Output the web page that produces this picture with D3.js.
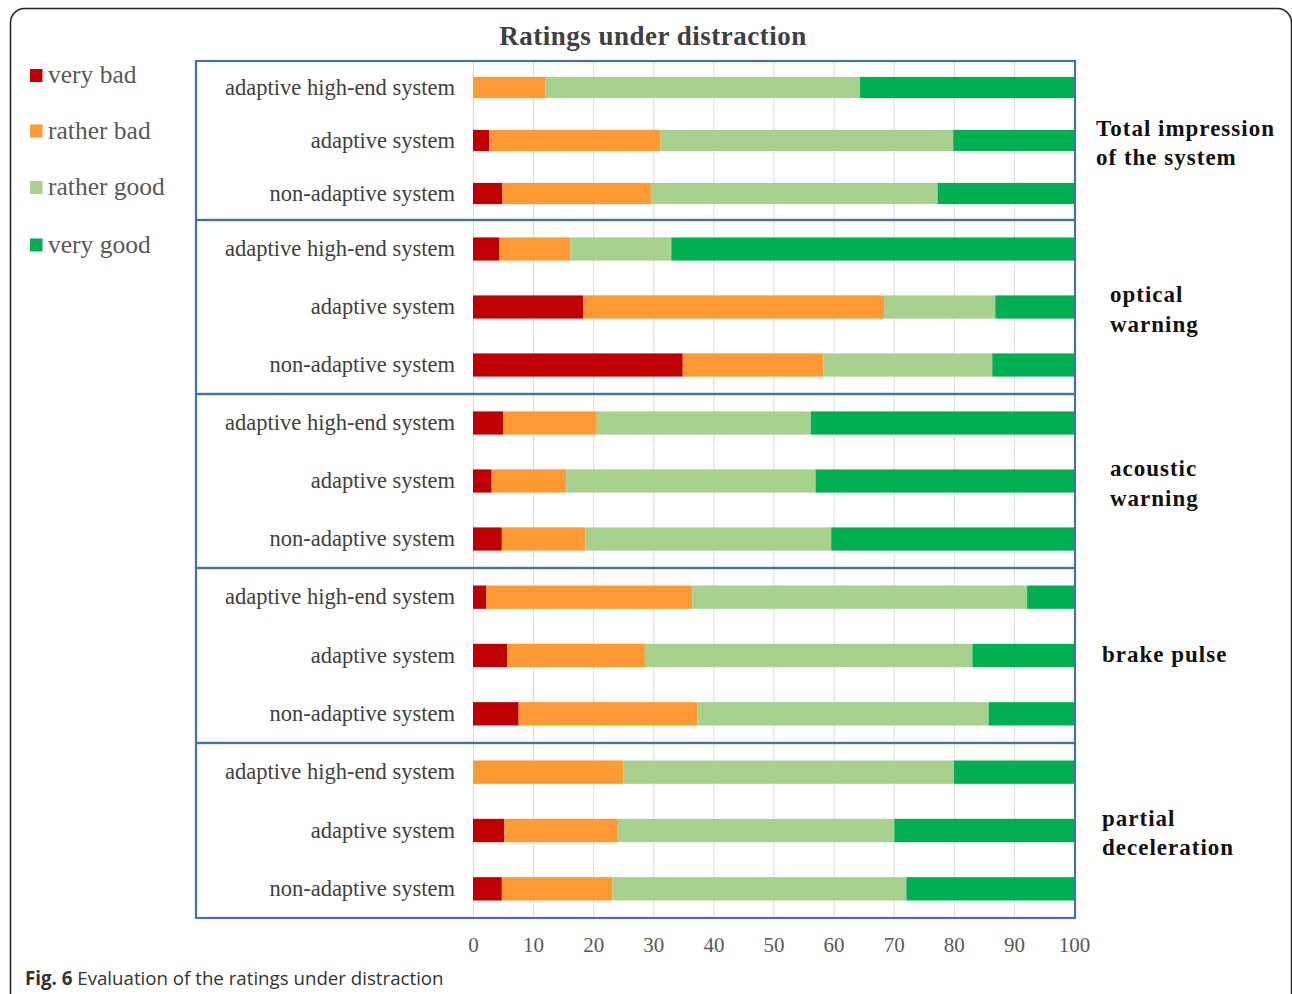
<!DOCTYPE html>
<html>
<head>
<meta charset="utf-8">
<script src="https://cdn.jsdelivr.net/npm/d3@7"></script>
<style>
  html, body { margin: 0; padding: 0; background: #fff; }
  svg { display: block; }
</style>
</head>
<body>
<svg id="chart" width="1292" height="994"></svg>
<script>
// Rated systems (rows inside every panel) and the rated functions (panels)
const categories = ["adaptive high-end system", "adaptive system", "non-adaptive system"];
const groups = [
  ["Total impression", "of the system"],
  ["optical", "warning"],
  ["acoustic", "warning"],
  ["brake pulse"],
  ["partial", "deceleration"]
];
const ratings = ["very bad", "rather bad", "rather good", "very good"];
const ratingColors = ["#c00000", "#ff9933", "#a9d18e", "#00b050"];

// Share of answers in percent, one entry per row, panel by panel
const veryBad    = [0.0, 2.7, 4.9,   4.4, 18.3, 34.9,   5.0, 3.1, 4.8,    2.2, 5.7, 7.6,    0.0, 5.2, 4.8];
const ratherBad  = [12.0, 28.5, 24.7, 11.8, 50.1, 23.4, 15.6, 12.4, 13.9, 34.3, 22.9, 29.7, 25.0, 18.9, 18.4];
const ratherGood = [52.4, 48.7, 47.7, 16.8, 18.5, 28.1, 35.6, 41.5, 40.9, 55.7, 54.5, 48.5, 55.0, 46.0, 48.9];
const veryGood   = [35.6, 20.1, 22.7, 67.0, 13.1, 13.6, 43.8, 43.0, 40.4, 7.8, 16.9, 14.2, 20.0, 29.9, 27.9];
const xTicks = [0, 10, 20, 30, 40, 50, 60, 70, 80, 90, 100];

// Layout
const frame = { left: 196, right: 1075 };
const panelEdges = [61, 220, 394, 568, 743, 918];
const groupLabelX = [1096, 1110, 1110, 1102, 1102];
const plotLeft = 473, plotRight = 1074;

const svg = d3.select("#chart");

// Outer figure frame
svg.append("rect")
  .attr("x", 10.5).attr("y", 8.5)
  .attr("width", 1281).attr("height", 1100)
  .attr("rx", 14)
  .attr("fill", "none").attr("stroke", "#222").attr("stroke-width", 1.5);

const x = d3.scaleLinear().domain([0, 100]).range([plotLeft, plotRight]);

// Build a row table from the series arrays
const rows = d3.range(veryBad.length).map(i => ({
  group: Math.floor(i / categories.length),
  category: categories[i % categories.length],
  values: [veryBad[i], ratherBad[i], ratherGood[i], veryGood[i]]
}));
const stack = d3.stack().keys(d3.range(ratings.length)).value((d, k) => d.values[k]);
const series = stack(rows);

groups.forEach((g, gi) => {
  const top = panelEdges[gi], bottom = panelEdges[gi + 1];
  const y = d3.scaleBand().domain(categories).range([top, bottom])
    .paddingInner(0.6).paddingOuter(0.3);
  const panel = svg.append("g");

  // vertical gridlines
  panel.selectAll("line.grid").data(xTicks).join("line")
    .attr("x1", d => x(d) + 0.5).attr("x2", d => x(d) + 0.5)
    .attr("y1", top).attr("y2", bottom)
    .attr("stroke", "#d9d9d9").attr("stroke-width", 1);

  // stacked bars
  series.forEach((s, k) => {
    panel.selectAll(null)
      .data(s.filter(d => d.data.group === gi))
      .join("rect")
      .attr("x", d => x(d[0]))
      .attr("width", d => Math.max(0, x(d[1]) - x(d[0])))
      .attr("y", d => y(d.data.category))
      .attr("height", y.bandwidth())
      .attr("fill", ratingColors[k]);
  });

  // row labels
  panel.selectAll("text.row").data(categories).join("text")
    .attr("x", 455)
    .attr("y", d => y(d) + y.bandwidth() / 2 + 7)
    .attr("text-anchor", "end")
    .attr("font-family", "Liberation Serif, Times New Roman, serif")
    .attr("font-size", 22.5)
    .attr("fill", "#404040")
    .text(d => d);

  // panel frame
  panel.append("rect")
    .attr("x", frame.left).attr("y", top)
    .attr("width", frame.right - frame.left).attr("height", bottom - top)
    .attr("fill", "none").attr("stroke", "#4472a8").attr("stroke-width", 2.2);

  // group label on the right
  const mid = (top + bottom) / 2;
  const t = svg.append("text")
    .attr("font-family", "Liberation Serif, Times New Roman, serif")
    .attr("font-weight", "bold")
    .attr("font-size", 23)
    .attr("letter-spacing", 1)
    .attr("fill", "#111");
  if (g.length === 1) {
    t.append("tspan").attr("x", groupLabelX[gi]).attr("y", mid + 6).text(g[0]);
  } else {
    g.forEach((line, li) => {
      t.append("tspan").attr("x", groupLabelX[gi]).attr("y", mid - 5 + li * 29.5).text(line);
    });
  }
});

// x axis
const axis = svg.append("g")
  .attr("transform", `translate(0,${panelEdges[panelEdges.length - 1]})`)
  .call(d3.axisBottom(x).tickValues(xTicks).tickSize(0).tickPadding(19));
axis.select(".domain").remove();
axis.selectAll("text")
  .attr("font-family", "Liberation Serif, Times New Roman, serif")
  .attr("font-size", 21)
  .attr("fill", "#595959");

// title
svg.append("text")
  .attr("x", 653).attr("y", 45)
  .attr("text-anchor", "middle")
  .attr("font-family", "Liberation Serif, Times New Roman, serif")
  .attr("font-weight", "bold")
  .attr("font-size", 27)
  .attr("letter-spacing", 0.5)
  .attr("fill", "#404040")
  .text("Ratings under distraction");

// legend
const legendY = [75.5, 131, 187.5, 245];
const legend = svg.append("g");
ratings.forEach((r, i) => {
  legend.append("rect")
    .attr("x", 30).attr("y", legendY[i] - 6.5)
    .attr("width", 12.5).attr("height", 13)
    .attr("fill", ratingColors[i]);
  legend.append("text")
    .attr("x", 48).attr("y", legendY[i] + 7.5)
    .attr("font-family", "Liberation Serif, Times New Roman, serif")
    .attr("font-size", 25.5)
    .attr("fill", "#595959")
    .text(r);
});

// caption
const cap = svg.append("text")
  .attr("x", 25).attr("y", 985)
  .attr("font-family", "Open Sans, Noto Sans, sans-serif")
  .attr("font-size", 18.7)
  .attr("fill", "#333");
cap.append("tspan").attr("font-weight", "bold").text("Fig. 6");
cap.append("tspan").text(" Evaluation of the ratings under distraction");
</script>
</body>
</html>
